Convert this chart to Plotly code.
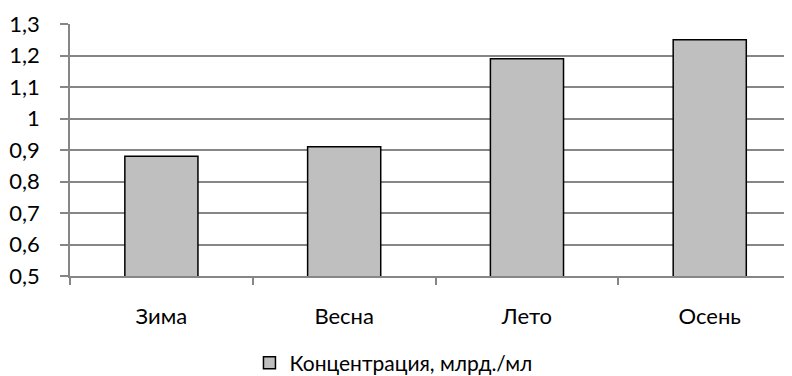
import plotly.graph_objects as go

categories = ["Зима", "Весна", "Лето", "Осень"]
values = [0.88, 0.91, 1.19, 1.25]
series_name = "Концентрация, млрд./мл"
y_ticks = [0.5, 0.6, 0.7, 0.8, 0.9, 1.0, 1.1, 1.2, 1.3]
y_tick_labels = ["0,5", "0,6", "0,7", "0,8", "0,9", "1", "1,1", "1,2", "1,3"]

FONT = "Lato"
GRID = "#868686"

fig = go.Figure()
fig.add_trace(go.Bar(
    x=categories, y=values, name=series_name,
    marker=dict(color="#bfbfbf", line=dict(color="#000000", width=1.5)),
    width=0.4, showlegend=True,
))

fig.update_layout(
    width=784, height=368,
    margin=dict(l=62, r=0, t=16, b=100, autoexpand=False),
    paper_bgcolor="white", plot_bgcolor="white",
    font=dict(family=FONT, size=22, color="#000000"),
    showlegend=True,
    legend=dict(orientation="h", x=0.448, xanchor="center",
                yref="container", y=13 / 368, yanchor="middle",
                font=dict(family=FONT, size=21), itemwidth=30,
                bgcolor="rgba(0,0,0,0)"),
)
fig.update_xaxes(
    type="category", range=[-0.5, 3.45], automargin=False,
    showline=True, linecolor=GRID, linewidth=1.5,
    ticks="outside", tickson="boundaries", ticklen=7, tickcolor=GRID, tickwidth=1.5,
    ticklabelstandoff=20,
    showgrid=False,
)
fig.update_yaxes(
    range=[0.5, 1.3], tickvals=y_ticks, ticktext=y_tick_labels, automargin=False,
    showline=True, linecolor=GRID, linewidth=1.5,
    ticks="outside", ticklen=8, tickcolor=GRID, tickwidth=1.5,
    ticklabelstandoff=16,
    showgrid=True, gridcolor=GRID, gridwidth=1.5,
    zeroline=False,
)

fig.write_html("out.html")
